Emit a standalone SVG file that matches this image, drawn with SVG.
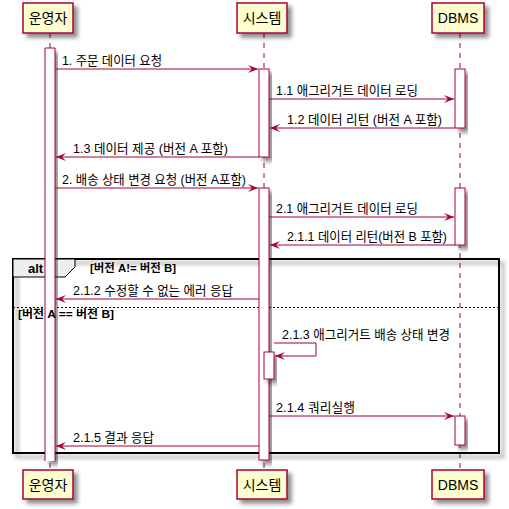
<svg xmlns="http://www.w3.org/2000/svg" width="509" height="509" viewBox="0 0 509 509">
<defs>
<filter id="sh" x="-20%" y="-20%" width="150%" height="150%">
<feGaussianBlur in="SourceAlpha" stdDeviation="2"/>
<feOffset dx="4" dy="4" result="b"/>
<feComponentTransfer><feFuncA type="linear" slope="0.45"/></feComponentTransfer>
<feMerge><feMergeNode/><feMergeNode in="SourceGraphic"/></feMerge>
</filter>
<marker id="ah" viewBox="0 0 10 8" refX="10" refY="4" markerWidth="10" markerHeight="8" markerUnits="userSpaceOnUse" orient="auto">
<polygon points="0,0 10,4 0,8 4,4" fill="#A80036"/>
</marker>
</defs>
<style>
.part{fill:#FEFECE;stroke:#A80036;stroke-width:1.5}
.pt{font-family:"Liberation Sans","Noto Sans CJK KR",sans-serif;font-size:14px;fill:#000;text-anchor:middle}
.life{stroke:#A80036;stroke-width:1;stroke-dasharray:5,5}
.act{fill:#FFFFFF;stroke:#A80036;stroke-width:1}
.msg{stroke:#A80036;stroke-width:1;fill:none;marker-end:url(#ah)}
.mt{font-family:"Liberation Sans","Noto Sans CJK KR",sans-serif;font-size:13px;fill:#000}
.gt{font-family:"Liberation Sans","Noto Sans CJK KR",sans-serif;font-size:11px;font-weight:bold;fill:#000}
</style>
<rect width="509" height="509" fill="#FFFFFF"/>
<g id="lifelines">
<line class="life" x1="50" y1="33" x2="50" y2="470"/>
<line class="life" x1="264" y1="33" x2="264" y2="470"/>
<line class="life" x1="460" y1="33" x2="460" y2="470"/>
</g>
<g id="frame">
<rect x="13" y="259" width="486" height="194" fill="none" stroke="#000" stroke-width="2" filter="url(#sh)"/>
<polygon points="13,259 75,259 75,267 65,277 13,277" fill="#EEEEEE" stroke="#000" stroke-width="1"/>
<line x1="13" y1="307.5" x2="499" y2="307.5" stroke="#000" stroke-width="1" stroke-dasharray="2,2"/>
</g>
<g id="activations">
<g filter="url(#sh)">
<rect x="45" y="48" width="10" height="413" fill="#FFFFFF" stroke="none"/>
</g>
<path d="M45,461 V48 H55 V461" fill="none" stroke="#A80036" stroke-width="1"/>
<rect class="act" x="259" y="69" width="10" height="88" filter="url(#sh)"/>
<rect class="act" x="455" y="69" width="10" height="59" filter="url(#sh)"/>
<rect class="act" x="259" y="188" width="10" height="272" filter="url(#sh)"/>
<rect class="act" x="455" y="188" width="10" height="57" filter="url(#sh)"/>
<rect class="act" x="264" y="352" width="10" height="27" filter="url(#sh)"/>
<rect class="act" x="455" y="416" width="10" height="29" filter="url(#sh)"/>
</g>
<g id="frame-labels">
<text x="28" y="273" font-family="Liberation Sans,Noto Sans CJK KR,sans-serif" font-size="13" font-weight="bold">alt</text>
<text class="gt" x="90" y="272" textLength="86" lengthAdjust="spacingAndGlyphs">[버전 A!= 버전 B]</text>
<text class="gt" x="18" y="318" textLength="96" lengthAdjust="spacingAndGlyphs">[버전 A == 버전 B]</text>
</g>
<g id="connectors">
<line class="msg" x1="55" y1="69" x2="258" y2="69"/>
<text class="mt" x="62" y="65" textLength="100" lengthAdjust="spacingAndGlyphs">1. 주문 데이터 요청</text>
<line class="msg" x1="269" y1="99" x2="454" y2="99"/>
<text class="mt" x="276" y="95" textLength="142" lengthAdjust="spacingAndGlyphs">1.1 애그리거트 데이터 로딩</text>
<line class="msg" x1="455" y1="128" x2="270" y2="128"/>
<text class="mt" x="287" y="124" textLength="155" lengthAdjust="spacingAndGlyphs">1.2 데이터 리턴 (버전 A 포함)</text>
<line class="msg" x1="259" y1="157" x2="56" y2="157"/>
<text class="mt" x="73" y="153" textLength="155" lengthAdjust="spacingAndGlyphs">1.3 데이터 제공 (버전 A 포함)</text>
<line class="msg" x1="55" y1="188" x2="258" y2="188"/>
<text class="mt" x="62" y="184" textLength="184" lengthAdjust="spacingAndGlyphs">2. 배송 상태 변경 요청 (버전 A포함)</text>
<line class="msg" x1="269" y1="217" x2="454" y2="217"/>
<text class="mt" x="276" y="213" textLength="142" lengthAdjust="spacingAndGlyphs">2.1 애그리거트 데이터 로딩</text>
<line class="msg" x1="455" y1="245" x2="270" y2="245"/>
<text class="mt" x="287" y="241" textLength="160" lengthAdjust="spacingAndGlyphs">2.1.1 데이터 리턴(버전 B 포함)</text>
<line class="msg" x1="259" y1="299" x2="56" y2="299"/>
<text class="mt" x="73" y="295" textLength="160" lengthAdjust="spacingAndGlyphs">2.1.2 수정할 수 없는 에러 응답</text>
<polyline class="msg" points="274,343 316,343 316,356 275,356"/>
<text class="mt" x="282" y="339" textLength="168" lengthAdjust="spacingAndGlyphs">2.1.3 애그리거트 배송 상태 변경</text>
<line class="msg" x1="269" y1="416" x2="454" y2="416"/>
<text class="mt" x="276" y="412" textLength="79" lengthAdjust="spacingAndGlyphs">2.1.4 쿼리실행</text>
<line class="msg" x1="259" y1="446" x2="56" y2="446"/>
<text class="mt" x="73" y="442" textLength="81" lengthAdjust="spacingAndGlyphs">2.1.5 결과 응답</text>
</g>
<g id="p-operator">
<rect class="part" x="23" y="3" width="50" height="30" filter="url(#sh)"/>
<text class="pt" x="48" y="23">운영자</text>
<rect class="part" x="23" y="470" width="50" height="29" filter="url(#sh)"/>
<text class="pt" x="48" y="490">운영자</text>
</g>
<g id="p-system">
<rect class="part" x="237" y="3" width="50" height="30" filter="url(#sh)"/>
<text class="pt" x="262" y="23">시스템</text>
<rect class="part" x="237" y="470" width="50" height="29" filter="url(#sh)"/>
<text class="pt" x="262" y="490">시스템</text>
</g>
<g id="p-dbms">
<rect class="part" x="432" y="3" width="52" height="30" filter="url(#sh)"/>
<text class="pt" x="458" y="23">DBMS</text>
<rect class="part" x="432" y="470" width="52" height="29" filter="url(#sh)"/>
<text class="pt" x="458" y="490">DBMS</text>
</g>
</svg>
